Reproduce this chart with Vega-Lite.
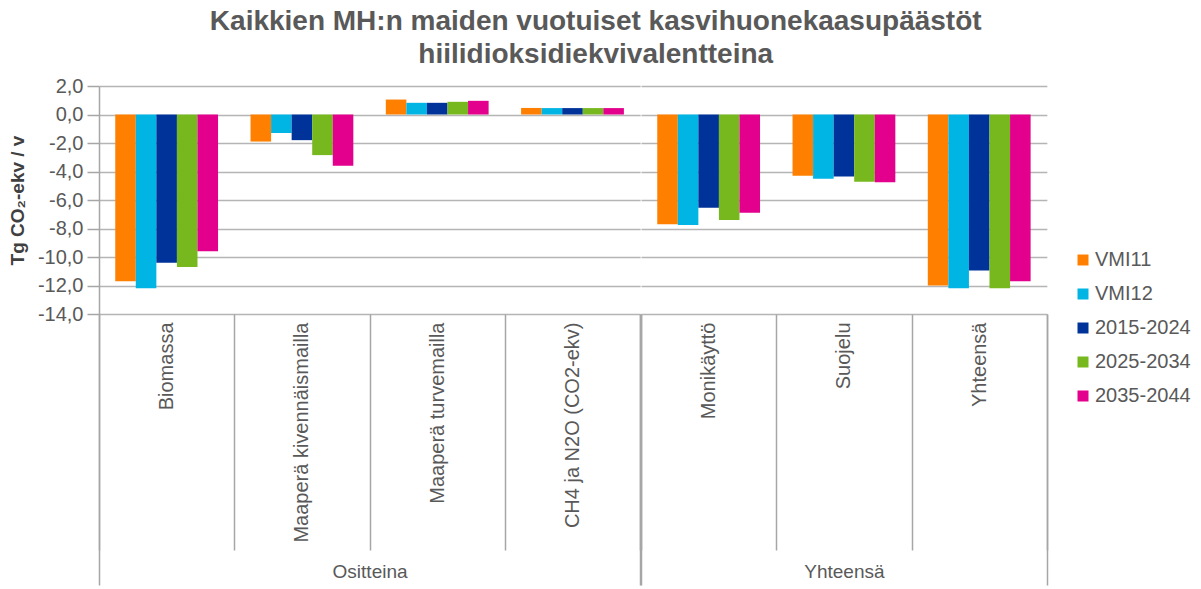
{
  "$schema": "https://vega.github.io/schema/vega-lite/v6.json",
  "padding": {"left": 8, "top": 8, "right": 4, "bottom": 2},
  "background": "white",
  "bounds": "flush",
  "title": {
    "text": ["Kaikkien MH:n maiden vuotuiset kasvihuonekaasupäästöt", "hiilidioksidiekvivalentteina"],
    "anchor": "middle",
    "frame": "bounds",
    "fontSize": 28,
    "fontWeight": "bold",
    "color": "#595959",
    "lineHeight": 33,
    "offset": 7,
    "dx": -4
  },
  "data": {
    "values": [
      {"group": "Ositteina", "category": "Biomassa", "series": "VMI11", "value": -11.7},
      {"group": "Ositteina", "category": "Biomassa", "series": "VMI12", "value": -12.2},
      {"group": "Ositteina", "category": "Biomassa", "series": "2015-2024", "value": -10.4},
      {"group": "Ositteina", "category": "Biomassa", "series": "2025-2034", "value": -10.7},
      {"group": "Ositteina", "category": "Biomassa", "series": "2035-2044", "value": -9.6},
      {"group": "Ositteina", "category": "Maaperä kivennäismailla", "series": "VMI11", "value": -1.9},
      {"group": "Ositteina", "category": "Maaperä kivennäismailla", "series": "VMI12", "value": -1.3},
      {"group": "Ositteina", "category": "Maaperä kivennäismailla", "series": "2015-2024", "value": -1.8},
      {"group": "Ositteina", "category": "Maaperä kivennäismailla", "series": "2025-2034", "value": -2.85},
      {"group": "Ositteina", "category": "Maaperä kivennäismailla", "series": "2035-2044", "value": -3.6},
      {"group": "Ositteina", "category": "Maaperä turvemailla", "series": "VMI11", "value": 1.05},
      {"group": "Ositteina", "category": "Maaperä turvemailla", "series": "VMI12", "value": 0.82},
      {"group": "Ositteina", "category": "Maaperä turvemailla", "series": "2015-2024", "value": 0.82},
      {"group": "Ositteina", "category": "Maaperä turvemailla", "series": "2025-2034", "value": 0.89},
      {"group": "Ositteina", "category": "Maaperä turvemailla", "series": "2035-2044", "value": 0.96},
      {"group": "Ositteina", "category": "CH4 ja N2O (CO2-ekv)", "series": "VMI11", "value": 0.46},
      {"group": "Ositteina", "category": "CH4 ja N2O (CO2-ekv)", "series": "VMI12", "value": 0.45},
      {"group": "Ositteina", "category": "CH4 ja N2O (CO2-ekv)", "series": "2015-2024", "value": 0.45},
      {"group": "Ositteina", "category": "CH4 ja N2O (CO2-ekv)", "series": "2025-2034", "value": 0.45},
      {"group": "Ositteina", "category": "CH4 ja N2O (CO2-ekv)", "series": "2035-2044", "value": 0.45},
      {"group": "Yhteensä", "category": "Monikäyttö", "series": "VMI11", "value": -7.7},
      {"group": "Yhteensä", "category": "Monikäyttö", "series": "VMI12", "value": -7.75},
      {"group": "Yhteensä", "category": "Monikäyttö", "series": "2015-2024", "value": -6.55},
      {"group": "Yhteensä", "category": "Monikäyttö", "series": "2025-2034", "value": -7.4},
      {"group": "Yhteensä", "category": "Monikäyttö", "series": "2035-2044", "value": -6.9},
      {"group": "Yhteensä", "category": "Suojelu", "series": "VMI11", "value": -4.3},
      {"group": "Yhteensä", "category": "Suojelu", "series": "VMI12", "value": -4.5},
      {"group": "Yhteensä", "category": "Suojelu", "series": "2015-2024", "value": -4.35},
      {"group": "Yhteensä", "category": "Suojelu", "series": "2025-2034", "value": -4.72},
      {"group": "Yhteensä", "category": "Suojelu", "series": "2035-2044", "value": -4.75},
      {"group": "Yhteensä", "category": "Yhteensä", "series": "VMI11", "value": -12.0},
      {"group": "Yhteensä", "category": "Yhteensä", "series": "VMI12", "value": -12.2},
      {"group": "Yhteensä", "category": "Yhteensä", "series": "2015-2024", "value": -10.95},
      {"group": "Yhteensä", "category": "Yhteensä", "series": "2025-2034", "value": -12.2},
      {"group": "Yhteensä", "category": "Yhteensä", "series": "2035-2044", "value": -11.7}
    ]
  },
  "spacing": 0,
  "hconcat": [
    {
      "width": 541.14,
      "height": 228,
      "transform": [{"filter": "datum.group === 'Ositteina'"}],
      "layer": [
        {
          "mark": {"type": "bar"},
          "encoding": {
            "x": {
              "field": "category", "type": "nominal", "sort": null,
              "scale": {"paddingInner": 0, "paddingOuter": 0},
              "axis": {"orient": "bottom", "title": null, "domain": false, "grid": false, "ticks": true, "tickBand": "extent", "tickSize": 236, "tickWidth": 1.5, "tickColor": "#A6A6A6", "labelAngle": -90, "labelPadding": -228, "labelLimit": 300, "labelFontSize": 20, "labelColor": "#595959"}
            },
            "xOffset": {
              "field": "series", "type": "nominal",
              "sort": ["VMI11", "VMI12", "2015-2024", "2025-2034", "2035-2044"],
              "scale": {"paddingInner": 0, "paddingOuter": 0.79}
            },
            "y": {
              "field": "value", "type": "quantitative",
              "scale": {"domain": [-14, 2], "nice": false},
              "axis": {"values": [-14, -12, -10, -8, -6, -4, -2, 0, 2], "format": ".1f", "title": "Tg CO₂-ekv / v", "titleFontSize": 19, "titleFontWeight": "bold", "titleColor": "#404040", "titlePadding": 10, "labelPadding": 4, "labelFontSize": 20, "labelColor": "#595959", "tickSize": 12, "tickWidth": 1.5, "tickColor": "#A6A6A6", "domain": true, "domainWidth": 1.5, "domainColor": "#A6A6A6", "grid": true, "gridColor": "#B5B5B5", "gridWidth": 1.5}
            },
            "color": {
              "field": "series", "type": "nominal",
              "scale": {"domain": ["VMI11", "VMI12", "2015-2024", "2025-2034", "2035-2044"], "range": ["#FF8000", "#00B4E4", "#00339A", "#77B81E", "#E2008C"]},
              "legend": {"orient": "none", "legendX": 974, "legendY": 164, "title": null, "symbolType": "square", "symbolSize": 121, "symbolStrokeWidth": 0, "labelFontSize": 20, "labelColor": "#595959", "rowPadding": 14, "labelOffset": 2}
            }
          }
        },
        {
          "mark": {"type": "point", "opacity": 0},
          "encoding": {
            "x": {
              "field": "group", "type": "nominal",
              "scale": {"paddingInner": 0, "paddingOuter": 0},
              "axis": {"orient": "bottom", "title": null, "domain": false, "grid": false, "tickBand": "extent", "tickSize": 271, "tickWidth": 1.5, "tickColor": "#A6A6A6", "labelAngle": 0, "labelPadding": -23, "labelFontSize": 19, "labelColor": "#595959"}
            }
          }
        }
      ],
      "resolve": {"scale": {"x": "independent"}}
    },
    {
      "width": 405.86,
      "height": 228,
      "transform": [{"filter": "datum.group === 'Yhteensä'"}],
      "layer": [
        {
          "mark": {"type": "bar"},
          "encoding": {
            "x": {
              "field": "category", "type": "nominal", "sort": null,
              "scale": {"paddingInner": 0, "paddingOuter": 0},
              "axis": {"orient": "bottom", "title": null, "domain": false, "grid": false, "ticks": true, "tickBand": "extent", "tickSize": 236, "tickWidth": 1.5, "tickColor": "#A6A6A6", "labelAngle": -90, "labelPadding": -228, "labelLimit": 300, "labelFontSize": 20, "labelColor": "#595959"}
            },
            "xOffset": {
              "field": "series", "type": "nominal",
              "sort": ["VMI11", "VMI12", "2015-2024", "2025-2034", "2035-2044"],
              "scale": {"paddingInner": 0, "paddingOuter": 0.79}
            },
            "y": {
              "field": "value", "type": "quantitative",
              "scale": {"domain": [-14, 2], "nice": false},
              "axis": {"values": [-14, -12, -10, -8, -6, -4, -2, 0, 2], "labels": false, "ticks": false, "domain": false, "title": null, "grid": true, "gridColor": "#B5B5B5", "gridWidth": 1.5}
            },
            "color": {
              "field": "series", "type": "nominal",
              "scale": {"domain": ["VMI11", "VMI12", "2015-2024", "2025-2034", "2035-2044"], "range": ["#FF8000", "#00B4E4", "#00339A", "#77B81E", "#E2008C"]},
              "legend": {"orient": "none", "legendX": 974, "legendY": 164, "title": null, "symbolType": "square", "symbolSize": 121, "symbolStrokeWidth": 0, "labelFontSize": 20, "labelColor": "#595959", "rowPadding": 14, "labelOffset": 2}
            }
          }
        },
        {
          "mark": {"type": "point", "opacity": 0},
          "encoding": {
            "x": {
              "field": "group", "type": "nominal",
              "scale": {"paddingInner": 0, "paddingOuter": 0},
              "axis": {"orient": "bottom", "title": null, "domain": false, "grid": false, "tickBand": "extent", "tickSize": 271, "tickWidth": 1.5, "tickColor": "#A6A6A6", "labelAngle": 0, "labelPadding": -23, "labelFontSize": 19, "labelColor": "#595959"}
            }
          }
        }
      ],
      "resolve": {"scale": {"x": "independent"}}
    }
  ],
  "config": {
    "font": "Liberation Sans",
    "view": {"stroke": null},
    "locale": {"number": {"decimal": ",", "thousands": " ", "grouping": [3], "currency": ["", " €"], "minus": "-"}}
  }
}
